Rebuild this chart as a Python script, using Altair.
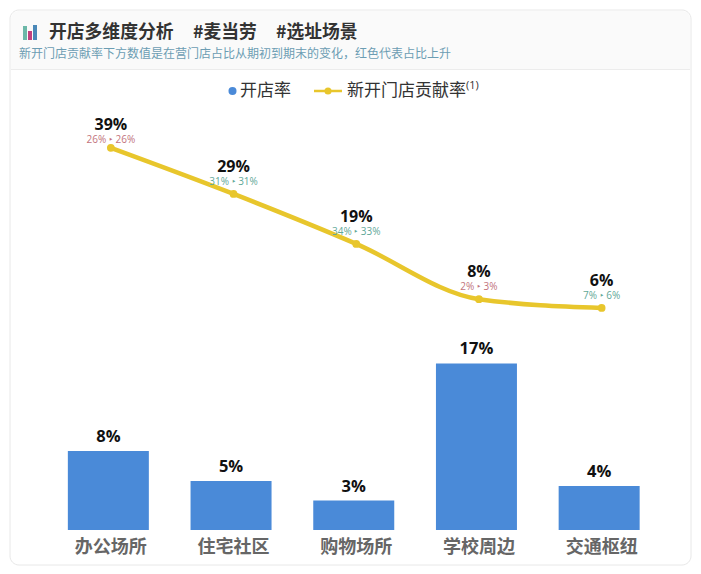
import altair as alt
import pandas as pd

categories = ["办公场所", "住宅社区", "购物场所", "学校周边", "交通枢纽"]
open_rate = [8.05, 5.0, 3.0, 17.0, 4.5]
open_labels = ["8%", "5%", "3%", "17%", "4%"]
contrib = [39.0, 29.5, 19.2, 7.8, 6.0]
contrib_labels = ["39%", "29%", "19%", "8%", "6%"]
change_labels = ["26% ‣ 26%", "31% ‣ 31%", "34% ‣ 33%", "2% ‣ 3%", "7% ‣ 6%"]
change_dir = ["up", "down", "down", "up", "down"]

FONT = "Noto Sans CJK SC"
LATIN = "Open Sans"
BLUE = "#4a8ad8"
YELLOW = "#e8c62c"

df = pd.DataFrame({
    "cat": categories, "open": open_rate, "open_label": open_labels,
    "contrib": contrib, "contrib_label": contrib_labels,
    "change": change_labels, "dir": change_dir,
})
one = pd.DataFrame({"k": [0]})

x = alt.X("cat:N", sort=categories, title=None,
          scale=alt.Scale(range=[39, 652.5], paddingInner=0.34, paddingOuter=0.17),
          axis=alt.Axis(domain=False, ticks=False, labelAngle=0, labelFont=FONT,
                        labelFontSize=18, labelFontWeight="bold", labelColor="#666666",
                        labelPadding=8, labelOffset=2.5, grid=False,
                        labelBaseline="top", zindex=1))
y_bar = alt.Y("open:Q", axis=None, scale=alt.Scale(domain=[0, 20], range=[522, 326]))
y_line = alt.Y("contrib:Q", axis=None, scale=alt.Scale(domain=[0, 40], range=[329, 135]))


def box(x0, x1, y0, y1, **kw):
    return alt.Chart(one).mark_rect(**kw).encode(
        x=alt.value(x0), x2=alt.value(x1), y=alt.value(y0), y2=alt.value(y1))


def label(text, px, py, size, color, font=FONT, weight="normal", align="left"):
    return alt.Chart(one).mark_text(
        text=text, font=font, fontSize=size, fontWeight=weight, color=color,
        align=align, baseline="middle").encode(x=alt.value(px), y=alt.value(py))


card = box(2, 683, 2, 557, fill="#ffffff", stroke="#e8e8e8", strokeWidth=1, cornerRadius=9)
header = box(3, 682, 3, 62, fill="#fafafa", cornerRadiusTopLeft=8, cornerRadiusTopRight=8)
header_line = box(3, 682, 61, 62, fill="#ececec")

icon = [
    box(15, 19, 18, 32, fill="#6cb8a8"),
    box(20, 24, 23, 32, fill="#c2407e"),
    box(25, 29, 17, 32, fill="#4a88b8"),
]

title = [
    label("开店多维度分析", 41, 25, 17.8, "#333333", weight="bold"),
    label("#麦当劳", 185, 25, 17.8, "#333333", weight="bold"),
    label("#选址场景", 268, 25, 17.8, "#333333", weight="bold"),
    label("新开门店贡献率下方数值是在营门店占比从期初到期末的变化，红色代表占比上升", 11, 46, 12, "#6c9db3"),
]

legend = [
    alt.Chart(one).mark_point(filled=True, size=65, color=BLUE, opacity=1).encode(
        x=alt.value(224.5), y=alt.value(83)),
    label("开店率", 232, 83, 17, "#333333"),
    alt.Chart(one).mark_rule(color=YELLOW, strokeWidth=2.5).encode(
        x=alt.value(306), x2=alt.value(334), y=alt.value(83)),
    alt.Chart(one).mark_point(filled=True, size=50, color=YELLOW, opacity=1).encode(
        x=alt.value(320), y=alt.value(83)),
    label("新开门店贡献率", 339, 83, 17, "#333333"),
    label("(1)", 458, 78, 11, "#333333", font=LATIN),
]

SHIFT = 2.5
base = alt.Chart(df)
first = base.transform_filter(alt.datum.contrib_label == "39%")
rest = base.transform_filter(alt.datum.contrib_label != "39%")
change_color = alt.Color("dir:N", legend=None,
                         scale=alt.Scale(domain=["up", "down"], range=["#c2737c", "#5fa898"]))

bars = base.mark_bar(color=BLUE, size=81).encode(x=x, y=y_bar)
bar_text = base.mark_text(font=LATIN, fontSize=16.5, fontWeight="bold", color="#111111",
                          baseline="middle", dy=-14).encode(
    x=x, y=y_bar, text="open_label:N")

line = base.mark_line(color=YELLOW, strokeWidth=4.5, interpolate="monotone",
                      xOffset=SHIFT).encode(x=x, y=y_line)
dots = base.mark_point(filled=True, size=60, color=YELLOW, opacity=1,
                       xOffset=SHIFT).encode(x=x, y=y_line)


def value_text(src, dy):
    return src.mark_text(font=LATIN, fontSize=16, fontWeight="bold", color="#111111",
                         baseline="middle", dy=dy, dx=SHIFT).encode(
        x=x, y=y_line, text="contrib_label:N")


def change_text(src, dy):
    return src.mark_text(font=LATIN, fontSize=10, baseline="middle", dy=dy, dx=SHIFT).encode(
        x=x, y=y_line, text="change:N", color=change_color)


chart = alt.layer(
    card, header, header_line, *icon, *title, *legend,
    bars, bar_text, line, dots,
    value_text(first, -23), value_text(rest, -27),
    change_text(first, -8), change_text(rest, -12),
).resolve_scale(y="independent", color="independent").properties(
    width=685, height=522,
    padding={"left": 0, "top": 0, "right": 0, "bottom": 36},
    autosize=alt.AutoSizeParams(type="none"),
    background="#ffffff",
).configure_view(stroke=None)

chart.save("out.html", embed_options={"renderer": "svg", "actions": False})
